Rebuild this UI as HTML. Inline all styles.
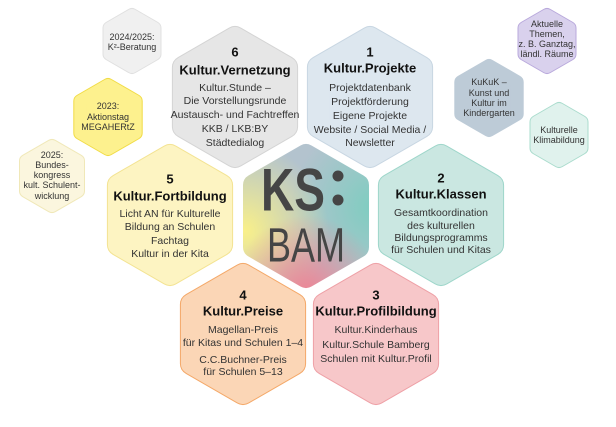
<!DOCTYPE html>
<html><head><meta charset="utf-8"><style>
html,body{margin:0;padding:0;background:#fff;width:616px;height:427px;overflow:hidden}
svg text{font-family:"Liberation Sans",sans-serif;fill:#222;text-anchor:middle;dominant-baseline:central}
.t{font-weight:bold;font-size:13px;fill:#111}
.b{font-size:10.5px;fill:#333}
.s{font-size:9px;fill:#333}
</style></head><body>
<svg width="616" height="427" viewBox="0 0 616 427" xmlns="http://www.w3.org/2000/svg">
<defs>
<mask id="mh"><polygon points="306,155 358,185 358,247 306,277 254,247 254,185" fill="#fff" stroke="#fff" stroke-width="22" stroke-linejoin="round"/></mask>
<radialGradient id="gy" cx="0.1" cy="0.6" r="0.55"><stop offset="0" stop-color="#f9f08a"/><stop offset="1" stop-color="#f9f08a" stop-opacity="0"/></radialGradient>
<radialGradient id="gt" cx="0.95" cy="0.45" r="0.55"><stop offset="0" stop-color="#7ecdc0"/><stop offset="1" stop-color="#7ecdc0" stop-opacity="0"/></radialGradient>
<radialGradient id="gp" cx="0.5" cy="1" r="0.5"><stop offset="0" stop-color="#ef8393"/><stop offset="1" stop-color="#ef8393" stop-opacity="0"/></radialGradient>
</defs>
<g stroke-linejoin="round" id="hexes"></g>
<script>
const H=[
 [235,97,70,'#e6e6e6','#d4d4d4'],[370,97,70,'#dde7ef','#c8d6e2'],
 [170,215,70,'#fdf4c2','#f3e392'],[441,215,70,'#cae7e1','#9ed6ca'],
 [243,334,70,'#fbd6b6','#f4a868'],[376,334,70,'#f7c7c9','#eea0a6'],
 [132,41,32,'#f0f0f0','#e0e0e0'],[108,117,38,'#fdf18e','#f1dc46'],
 [52,176,36,'#fbf6de','#f0e8b8'],[547,41,32,'#d9d1ed','#b9a9dc'],
 [489,98,38,'#bdcbd7','#bdcbd7'],[559,135,32,'#e0f2ed','#aadccd']];
const g=document.getElementById('hexes');const NS='http://www.w3.org/2000/svg';
function pts(cx,cy,r){let p=[];for(let i=0;i<6;i++){const a=Math.PI/180*(60*i-90);p.push((cx+r*Math.cos(a)).toFixed(1)+','+(cy+r*Math.sin(a)).toFixed(1));}return p.join(' ');}
for(const [x,y,r,f,s] of H){const w=r>50?22:12;const k=r-w/2;
 const o=document.createElementNS(NS,'polygon');o.setAttribute('points',pts(x,y,k));o.setAttribute('fill',f);o.setAttribute('stroke',s);o.setAttribute('stroke-width',w+2);g.appendChild(o);
 const i=document.createElementNS(NS,'polygon');i.setAttribute('points',pts(x,y,k));i.setAttribute('fill',f);i.setAttribute('stroke',f);i.setAttribute('stroke-width',w);g.appendChild(i);}
</script>
<g mask="url(#mh)">
<rect x="230" y="135" width="152" height="160" fill="#b3c3ce"/>
<rect x="230" y="135" width="152" height="160" fill="url(#gt)"/>
<rect x="230" y="135" width="152" height="160" fill="url(#gy)"/>
<rect x="230" y="135" width="152" height="160" fill="url(#gp)"/>
</g>
<text x="293" y="190" style="font-size:60px;font-weight:bold;fill:#454545" textLength="64" lengthAdjust="spacingAndGlyphs">KS</text>
<circle cx="338" cy="176" r="5.5" fill="#454545"/><circle cx="338" cy="200" r="5.5" fill="#454545"/>
<text x="306" y="246" style="font-size:48px;fill:#454545" textLength="78" lengthAdjust="spacingAndGlyphs">BAM</text>

<text class="t" x="235" y="52">6</text><text class="t" x="235" y="70">Kultur.Vernetzung</text>
<text class="b" x="235" y="88">Kultur.Stunde –</text><text class="b" x="235" y="101">Die Vorstellungsrunde</text>
<text class="b" x="235" y="115">Austausch- und Fachtreffen</text><text class="b" x="235" y="129">KKB / LKB:BY</text><text class="b" x="235" y="143">Städtedialog</text>

<text class="t" x="370" y="52">1</text><text class="t" x="370" y="68">Kultur.Projekte</text>
<text class="b" x="370" y="88">Projektdatenbank</text><text class="b" x="370" y="102">Projektförderung</text>
<text class="b" x="370" y="116">Eigene Projekte</text><text class="b" x="370" y="130">Website / Social Media /</text><text class="b" x="370" y="143">Newsletter</text>

<text class="t" x="170" y="179">5</text><text class="t" x="170" y="196">Kultur.Fortbildung</text>
<text class="b" x="170" y="214">Licht AN für Kulturelle</text><text class="b" x="170" y="227">Bildung an Schulen</text>
<text class="b" x="170" y="241">Fachtag</text><text class="b" x="170" y="254">Kultur in der Kita</text>

<text class="t" x="441" y="178">2</text><text class="t" x="441" y="194">Kultur.Klassen</text>
<text class="b" x="441" y="213">Gesamtkoordination</text><text class="b" x="441" y="226">des kulturellen</text>
<text class="b" x="441" y="238">Bildungsprogramms</text><text class="b" x="441" y="250">für Schulen und Kitas</text>

<text class="t" x="243" y="295">4</text><text class="t" x="243" y="311">Kultur.Preise</text>
<text class="b" x="243" y="330">Magellan-Preis</text><text class="b" x="243" y="343">für Kitas und Schulen 1–4</text>
<text class="b" x="243" y="360">C.C.Buchner-Preis</text><text class="b" x="243" y="372">für Schulen 5–13</text>

<text class="t" x="376" y="295">3</text><text class="t" x="376" y="311">Kultur.Profilbildung</text>
<text class="b" x="376" y="330">Kultur.Kinderhaus</text><text class="b" x="376" y="345">Kultur.Schule Bamberg</text>
<text class="b" x="376" y="359">Schulen mit Kultur.Profil</text>

<text class="s" x="132" y="37">2024/2025:</text><text class="s" x="132" y="47">K²-Beratung</text>
<text class="s" x="108" y="106">2023:</text><text class="s" x="108" y="117">Aktionstag</text><text class="s" x="108" y="127">MEGAHERtZ</text>
<text class="s" x="52" y="155">2025:</text><text class="s" x="52" y="165">Bundes-</text><text class="s" x="52" y="175">kongress</text><text class="s" x="52" y="185">kult. Schulent-</text><text class="s" x="52" y="196">wicklung</text>
<text class="s" x="547" y="24">Aktuelle</text><text class="s" x="547" y="34">Themen,</text><text class="s" x="547" y="44">z. B. Ganztag,</text><text class="s" x="547" y="54">ländl. Räume</text>
<text class="s" x="489" y="82">KuKuK –</text><text class="s" x="489" y="93">Kunst und</text><text class="s" x="489" y="103">Kultur im</text><text class="s" x="489" y="113">Kindergarten</text>
<text class="s" x="559" y="130">Kulturelle</text><text class="s" x="559" y="140">Klimabildung</text>
</svg>
</body></html>
